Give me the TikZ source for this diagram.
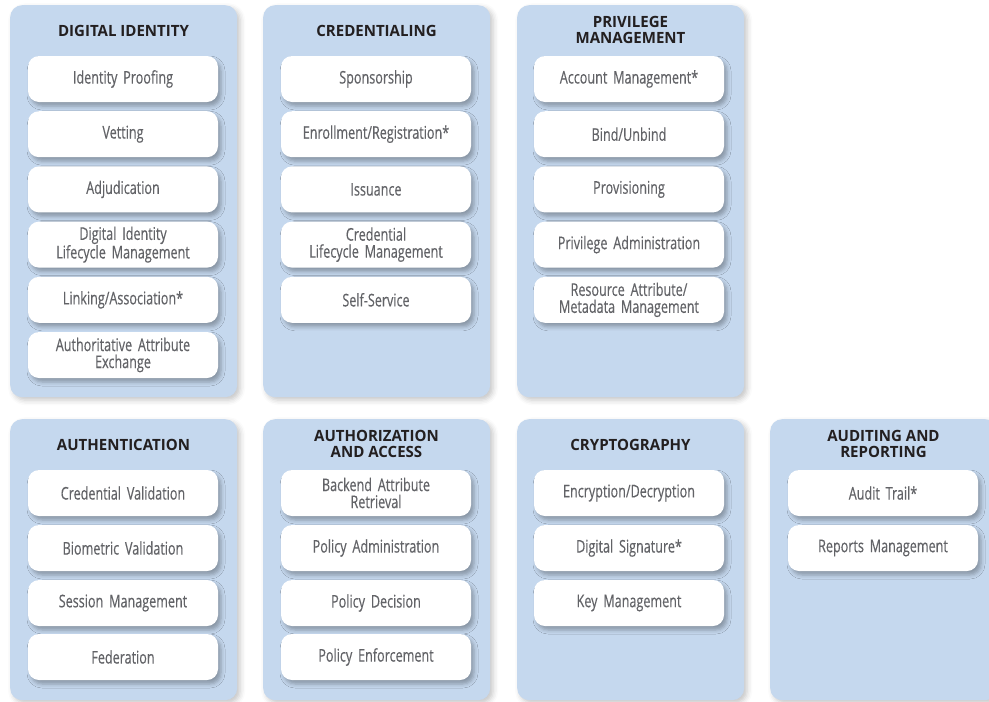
\documentclass[tikz,border=0pt]{standalone}
\usepackage{fontspec}
\setmainfont{Open Sans}
\newfontfamily\itemfont[FakeStretch=0.72, FakeBold=0.35]{Open Sans}
\newfontfamily\headfont[FakeStretch=0.97]{Open Sans}
\usetikzlibrary{shadows.blur}

% Condensed item lettering with tighter word spacing
\newcommand{\itemtype}{\itemfont\fontsize{17.5}{17}\selectfont\spaceskip=2.4pt plus 1pt minus 0.5pt\relax}

\definecolor{panelblue}{RGB}{197,216,238}
\definecolor{itemtext}{RGB}{98,99,103}
\definecolor{headtext}{RGB}{35,31,32}

\tikzset{
  panel/.style={fill=panelblue, rounded corners=12pt, minimum width=227pt,
    anchor=north west, inner sep=0pt,
    blur shadow={shadow xshift=3pt, shadow yshift=-3pt, shadow blur radius=5pt, shadow opacity=22}},
  toppanel/.style={panel, minimum height=392pt},
  lowpanel/.style={panel, minimum height=281pt},
  item/.style={fill=white, rounded corners=11pt, minimum width=190pt, minimum height=46pt,
    text width=186pt, align=center, inner sep=0pt, text=itemtext,
    font=\itemtype,
    blur shadow={shadow xshift=3pt, shadow yshift=-4pt, shadow blur radius=4pt, shadow opacity=30}},
  head/.style={font=\headfont\bfseries\fontsize{15.5}{16}\selectfont, text=headtext,
    align=center, inner sep=0pt}
}

\begin{document}
\begin{tikzpicture}[x=1pt, y=-1pt]
  \useasboundingbox (0,0) rectangle (989,702);

  % Panels
  \node[toppanel] (pid)   at (10,5)    {};
  \node[toppanel] (pcred) at (263,5)   {};
  \node[toppanel] (ppriv) at (517,5)   {};
  \node[lowpanel] (pauth) at (10,419)  {};
  \node[lowpanel] (pacc)  at (263,419) {};
  \node[lowpanel] (pcryp) at (517,419) {};
  \node[lowpanel] (paud)  at (770,419) {};

  % Headings
  \node[head] (hid)   at (123.5,31)  {DIGITAL IDENTITY};
  \node[head] (hcred) at (376.5,31)  {CREDENTIALING};
  \node[head] (hpriv) at (630.5,30)  {PRIVILEGE\\MANAGEMENT};
  \node[head] (hauth) at (123.5,445) {AUTHENTICATION};
  \node[head] (hacc)  at (376.5,444) {AUTHORIZATION\\AND ACCESS};
  \node[head] (hcryp) at (630.5,445) {CRYPTOGRAPHY};
  \node[head] (haud)  at (883.5,444) {AUDITING AND\\REPORTING};

  % Digital identity
  \node[item] (di1) at (123,79)    {Identity Proofing};
  \node[item] (di2) at (123,134.2) {Vetting};
  \node[item] (di3) at (123,189.4) {Adjudication};
  \node[item] (di4) at (123,244.6) {Digital Identity\\Lifecycle Management};
  \node[item] (di5) at (123,299.8) {Linking/Association*};
  \node[item] (di6) at (123,355)   {Authoritative Attribute\\Exchange};

  % Credentialing
  \node[item] (cr1) at (376,79)    {Sponsorship};
  \node[item] (cr2) at (376,134.2) {Enrollment/Registration*};
  \node[item] (cr3) at (376,189.4) {Issuance};
  \node[item] (cr4) at (376,244.6) {Credential\\Lifecycle Management};
  \node[item] (cr5) at (376,299.8) {Self-Service};

  % Privilege management
  \node[item] (pm1) at (629,79)    {Account Management*};
  \node[item] (pm2) at (629,134.2) {Bind/Unbind};
  \node[item] (pm3) at (629,189.4) {Provisioning};
  \node[item] (pm4) at (629,244.6) {Privilege Administration};
  \node[item] (pm5) at (629,299.8) {Resource Attribute/\\Metadata Management};

  % Authentication
  \node[item] (au1) at (123,493) {Credential Validation};
  \node[item] (au2) at (123,548) {Biometric Validation};
  \node[item] (au3) at (123,603) {Session Management};
  \node[item] (au4) at (123,657) {Federation};

  % Authorization and access
  \node[item] (ac1) at (376,493) {Backend Attribute\\Retrieval};
  \node[item] (ac2) at (376,548) {Policy Administration};
  \node[item] (ac3) at (376,603) {Policy Decision};
  \node[item] (ac4) at (376,657) {Policy Enforcement};

  % Cryptography
  \node[item] (cy1) at (629,493) {Encryption/Decryption};
  \node[item] (cy2) at (629,548) {Digital Signature*};
  \node[item] (cy3) at (629,603) {Key Management};

  % Auditing and reporting
  \node[item] (ar1) at (883,493) {Audit Trail*};
  \node[item] (ar2) at (883,548) {Reports Management};
\end{tikzpicture}
\end{document}
